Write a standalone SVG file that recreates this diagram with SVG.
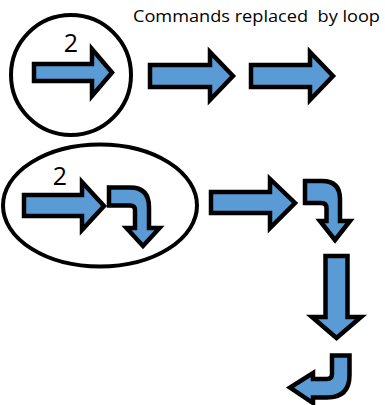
<svg xmlns="http://www.w3.org/2000/svg" width="385" height="405" viewBox="0 0 385 405">
<style>
.ring{fill:none;stroke:#000;stroke-width:4}
.arr{fill:#5B9BD5;stroke:#000;stroke-width:4.5;stroke-linejoin:miter;stroke-miterlimit:10}
.lbl{font-family:"Open Sans","Liberation Sans",Arial,sans-serif;fill:#000}
</style>
<rect width="385" height="405" fill="#fff"/>
<g id="title"><text class="lbl" x="133" y="22" font-size="17" textLength="247" lengthAdjust="spacingAndGlyphs" xml:space="preserve" style="white-space:pre">Commands replaced  by loop</text></g>
<g id="loop1">
<circle class="ring" cx="71" cy="75" r="60"/>
<text class="lbl" x="71" y="52" font-size="25" text-anchor="middle">2</text>
<path class="arr" d="M34,64 H92 V49 L112,72.5 L92,96 V81 H34 Z"/>
</g>
<g id="step1"><path class="arr" d="M150,65 H210 V52 L233,76 L210,100 V87 H150 Z"/></g>
<g id="step2"><path class="arr" d="M251,65 H310 V52 L333,76 L310,100 V87 H251 Z"/></g>
<g id="loop2">
<ellipse class="ring" cx="100" cy="205.5" rx="97" ry="61"/>
<text class="lbl" x="60" y="185" font-size="25" text-anchor="middle">2</text>
<path class="arr" d="M24,195 H82 V182 L104,206 L82,230 V216 H24 Z"/>
<path class="arr" d="M109,187.5 H130 Q149,187.5 149,207 V228 H159.5 L143,246 L126.5,228 H135 V210 Q135,205.5 130,205.5 H109 Z"/>
</g>
<g id="step3"><path class="arr" d="M211,192 H270 V179 L295,203 L270,228 V213 H211 Z"/></g>
<g id="step4"><path class="arr" d="M305,181 H322 Q340,181 340,199 V221 H350 L335,240 L320,221 H326.5 V208 Q326.5,203 321,203 H305 Z"/></g>
<g id="step5"><path class="arr" d="M325.5,256 H347.5 V317 H361 L336.5,338 L312,317 H325.5 Z"/></g>
<g id="step6"><path class="arr" d="M332,355.5 H349.5 V375 Q349.5,397.5 327,397.5 H313 V403 L290,387.5 L313,373 V379 H327 Q332,379 332,374 Z"/></g>
</svg>
